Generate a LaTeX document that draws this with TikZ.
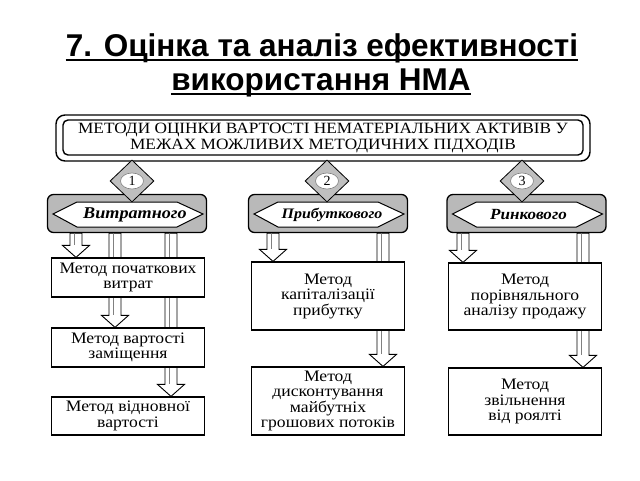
\documentclass[tikz,border=0pt]{standalone}
\usepackage{fontspec}
\setmainfont{Liberation Serif}
\newfontfamily\titlefont{Liberation Sans}
\newfontfamily\boxfont[FakeStretch=1.1]{Liberation Serif}
\usetikzlibrary{calc,shapes.geometric}
\pgfdeclarelayer{background}
\pgfsetlayers{background,main}
\tikzset{
  mbox/.style={draw, line width=1.2pt, fill=white, minimum width=153pt, align=center,
    font=\boxfont\fontsize{16}{15.5}\selectfont, inner sep=1pt},
  banner/.style={draw, line width=1.3pt, fill=gray!55, rounded corners=6pt, minimum width=159pt, minimum height=38pt},
  hexa/.style={draw, line width=1pt, fill=white},
  dia/.style={draw, line width=0.8pt, fill=gray!50, diamond, minimum width=44pt, minimum height=42pt, inner sep=0pt},
  numov/.style={draw=gray, line width=0.6pt, fill=white, ellipse, minimum width=23pt, minimum height=16pt, inner sep=0pt, font=\fontsize{14}{14}\selectfont},
  btext/.style={font=\boxfont\fontsize{16.5}{16.5}\selectfont\bfseries\itshape, inner sep=0pt},
  arr/.style={draw, line width=0.9pt, fill=white, line join=miter},
  ttl/.style={font=\titlefont\fontsize{31.5}{32}\selectfont\bfseries, inner sep=0pt, anchor=base}
}
% hollow arrow: #1 x-position, #2 start anchor, #3 end anchor
\newcommand\harrow[3]{%
  \path[arr] let \p1=(#2), \p2=(#3) in
    ({#1pt-6pt},\y1) -- ({#1pt-6pt},{\y2+12pt}) -- ({#1pt-13.5pt},{\y2+12pt}) --
    ({#1pt},\y2) -- ({#1pt+13.5pt},{\y2+12pt}) -- ({#1pt+6pt},{\y2+12pt}) --
    ({#1pt+6pt},\y1) -- cycle;
  \draw[gray, line width=0.7pt] let \p1=(#2), \p2=(#3) in ({#1pt-1.5pt},\y1) -- ({#1pt-1.5pt},{\y2+12pt});}
% white hexagon inside a banner node #1
\newcommand\hexin[1]{%
  \path[hexa] ($(#1.center)+(-74,0.5)$) -- ($(#1.center)+(-50,-11.5)$) -- ($(#1.center)+(50,-11.5)$) --
    ($(#1.center)+(76,0.5)$) -- ($(#1.center)+(50,13.5)$) -- ($(#1.center)+(-50,13.5)$) -- cycle;}
\begin{document}
\begin{tikzpicture}[x=1pt,y=-1pt]
\useasboundingbox (0,0) rectangle (640,480);
% title
\node[ttl] (t1) at (322,56) {7. Оцінка та аналіз ефективності};
\node[ttl] (t2) at (321,90) {використання НМА};
\draw[line width=2pt] ($(t1.base west)+(0,4)$) -- ($(t1.base east)+(0,4)$);
\draw[line width=2pt] ($(t2.base west)+(0,4)$) -- ($(t2.base east)+(0,4)$);
% top box
\node[draw, line width=1.4pt, rounded corners=9pt, minimum width=534pt, minimum height=46pt] (top) at (323,138) {};
\node[draw, line width=1.4pt, rounded corners=5pt, minimum width=520pt, minimum height=35pt, align=center, inner sep=0pt,
  font=\boxfont\fontsize{15.7}{16}\selectfont] (topin) at (323,137.5) {МЕТОДИ ОЦІНКИ ВАРТОСТІ НЕМАТЕРІАЛЬНИХ АКТИВІВ У\\МЕЖАХ МОЖЛИВИХ МЕТОДИЧНИХ ПІДХОДІВ};
% method boxes
\node[mbox, minimum height=39pt] (m11) at (128,277.5) {Метод початкових\\витрат};
\node[mbox, minimum height=39pt] (m12) at (128,347.5) {Метод вартості\\заміщення};
\node[mbox, minimum height=38pt] (m13) at (128,416) {Метод відновної\\вартості};
\node[mbox, minimum height=68pt] (m21) at (328,296) {Метод\\капіталізації\\прибутку};
\node[mbox, minimum height=68pt] (m22) at (328,401) {Метод\\дисконтування\\майбутніх\\грошових потоків};
\node[mbox, minimum height=67pt] (m31) at (525,296.5) {Метод\\порівняльного\\аналізу продажу};
\node[mbox, minimum height=67pt] (m32) at (525,401.5) {Метод\\звільнення\\від роялті};
% banners
\node[banner] (b1) at (127,213.5) {};
\node[banner] (b2) at (328,213.5) {};
\node[banner] (b3) at (526.5,213.5) {};
\hexin{b1}\hexin{b2}\hexin{b3}
\node[btext] (l1) at ($(b1.center)+(8,1)$) {Витратного};
\node[btext, font=\boxfont\fontsize{14.5}{14.5}\selectfont\bfseries\itshape] (l2) at ($(b2.center)+(4,1)$) {Прибуткового};
\node[btext, font=\boxfont\fontsize{15.5}{15.5}\selectfont\bfseries\itshape] (l3) at ($(b3.center)+(2,1)$) {Ринкового};
% diamonds
\node[dia] (d1) at (132,181) {};
\node[dia] (d2) at (327,181) {};
\node[dia] (d3) at (522,181) {};
\node[numov] (n1) at (d1.center) {1};
\node[numov] (n2) at (d2.center) {2};
\node[numov] (n3) at (d3.center) {3};
% arrows (behind boxes)
\begin{pgfonlayer}{background}
\harrow{76}{b1.south}{m11.north}
\harrow{115}{b1.south}{m12.north}
\harrow{171}{b1.south}{m13.north}
\harrow{273}{b2.south}{m21.north}
\harrow{383}{b2.south}{m22.north}
\harrow{463}{b3.south}{m31.north}
\harrow{583}{b3.south}{m32.north}
\end{pgfonlayer}
\end{tikzpicture}
\end{document}
